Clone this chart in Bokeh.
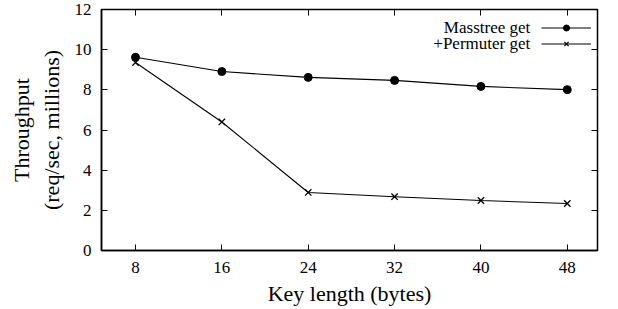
from bokeh.plotting import figure
from bokeh.models import (LinearAxis, FixedTicker, Range1d, Legend, LegendItem, Label,
                          CustomJSTickFormatter)
from bokeh.embed import file_html
from bokeh.resources import INLINE

key_lengths = [8, 16, 24, 32, 40, 48]
masstree_get = [9.62, 8.91, 8.62, 8.47, 8.17, 8.01]
permuter_get = [9.36, 6.40, 2.89, 2.68, 2.49, 2.34]
series_names = ["Masstree get", "+Permuter get"]
y_ticks = [0, 2, 4, 6, 8, 10, 12]

FONT = "Liberation Serif"

p = figure(width=618, height=309, output_backend="svg", toolbar_location=None,
           x_range=Range1d(4.85, 50.8), y_range=Range1d(0, 12),
           min_border_left=101, min_border_right=21, min_border_top=9, min_border_bottom=59)
p.grid.visible = False
p.outline_line_color = "black"
p.outline_line_width = 1.5
p.background_fill_color = "white"

for ax in [p.xaxis[0], p.yaxis[0]]:
    ax.axis_line_color = "black"
    ax.axis_line_width = 1.5
    ax.major_tick_in = 6
    ax.major_tick_out = 0
    ax.minor_tick_line_color = None
    ax.major_tick_line_color = "black"
    ax.major_tick_line_width = 1
    ax.major_label_text_font = FONT
    ax.major_label_text_font_size = "17px"
    ax.major_label_text_color = "black"
    ax.axis_label_text_font = FONT
    ax.axis_label_text_font_size = "22px"
    ax.axis_label_text_font_style = "normal"
    ax.axis_label_text_color = "black"

p.xaxis[0].ticker = FixedTicker(ticks=key_lengths)
p.yaxis[0].ticker = FixedTicker(ticks=y_ticks)
p.xaxis[0].axis_label = "Key length (bytes)"
p.yaxis[0].axis_label = "Throughput\n(req/sec, millions)"
p.xaxis[0].major_label_standoff = 11
p.yaxis[0].major_label_standoff = 10
p.xaxis[0].axis_label_standoff = 5
p.yaxis[0].axis_label_standoff = 8

empty = CustomJSTickFormatter(code="return ''")
top = LinearAxis(ticker=FixedTicker(ticks=key_lengths), formatter=empty,
                 major_tick_in=6, major_tick_out=0, minor_tick_line_color=None,
                 axis_line_color=None, major_label_standoff=0,
                 major_label_text_font_size="0px")
right = LinearAxis(ticker=FixedTicker(ticks=y_ticks), formatter=empty,
                   major_tick_in=6, major_tick_out=0, minor_tick_line_color=None,
                   axis_line_color=None, major_label_standoff=0,
                   major_label_text_font_size="0px")
p.add_layout(top, "above")
p.add_layout(right, "right")

l1 = p.line(key_lengths, masstree_get, line_color="black", line_width=1.1)
s1 = p.scatter(key_lengths, masstree_get, marker="circle", size=8,
               fill_color="black", line_color="black")
l2 = p.line(key_lengths, permuter_get, line_color="black", line_width=1.1)
s2 = p.scatter(key_lengths, permuter_get, marker="x", size=9,
               line_color="black", line_width=1.3)

legend = Legend(items=[LegendItem(label=" ", renderers=[l1, s1]),
                       LegendItem(label=" ", renderers=[l2, s2])],
                location=(440, 199), glyph_width=50, glyph_height=15,
                label_width=0, label_standoff=0, spacing=1, padding=0, margin=0,
                border_line_color=None, background_fill_alpha=0,
                label_text_font_size="1px")
p.add_layout(legend, "center")

for name, yv in zip(series_names, [11.1, 10.31]):
    p.add_layout(Label(x=44.57, y=yv, text=name, text_align="right",
                       text_baseline="middle", text_font=FONT,
                       text_font_size="17px", text_color="black"))

open("out.html", "w").write(file_html(p, INLINE))
